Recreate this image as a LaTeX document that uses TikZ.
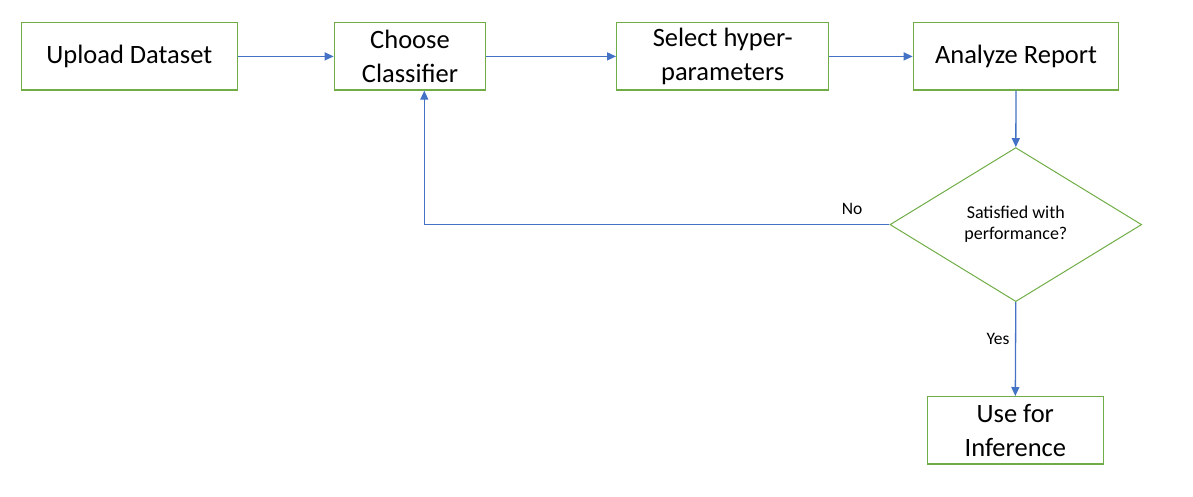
\documentclass[tikz,border=0pt]{standalone}
\usepackage{fontspec}
\setmainfont{Carlito}
\usetikzlibrary{shapes.geometric,arrows.meta}
\definecolor{boxgreen}{HTML}{70AD47}
\definecolor{linkblue}{HTML}{4472C4}
\begin{document}
\begin{tikzpicture}[x=1pt,y=-1pt,
  procbox/.style={draw=boxgreen,line width=1.3pt,rectangle,minimum height=67.3pt,inner sep=0pt,align=center,font=\fontsize{26.5}{34}\selectfont},
  decision/.style={draw=boxgreen,line width=1pt,diamond,minimum width=251.7pt,minimum height=154pt,inner sep=0pt,align=center,font=\fontsize{18}{21}\selectfont},
  link/.style={draw=linkblue,line width=1.3pt,-{Triangle[length=9pt,width=8pt]}},
  lbl/.style={font=\fontsize{17.5}{20}\selectfont,inner sep=0pt}]
\useasboundingbox (0,0) rectangle (1193,496);
\node[procbox,minimum width=216pt] (upload) at (129.3,56.4) {Upload Dataset};
\node[procbox,minimum width=151.4pt] (choose) at (410,56.4) {Choose\\Classifier};
\node[procbox,minimum width=212pt] (select) at (722.7,56.4) {Select hyper-\\parameters};
\node[procbox,minimum width=205.4pt] (analyze) at (1016,56.4) {Analyze Report};
\node[decision] (dia) at (1015.8,224.6) {Satisfied with\\performance?};
\node[procbox,minimum width=176pt] (use) at (1015.3,430.3) {Use for\\Inference};
\coordinate (back) at ([xshift=14.3pt]choose.south);
\draw[link] (upload.east) -- (choose.west);
\draw[link] (choose.east) -- (select.west);
\draw[link] (select.east) -- (analyze.west);
\draw[link] (analyze.south) -- (dia.north);
\draw[link] (dia.south) -- (use.north);
\draw[link] (dia.west) -| (back);
\node[lbl] (no) at (852,209) {No};
\node[lbl] (yes) at (998,339) {Yes};
\end{tikzpicture}
\end{document}
